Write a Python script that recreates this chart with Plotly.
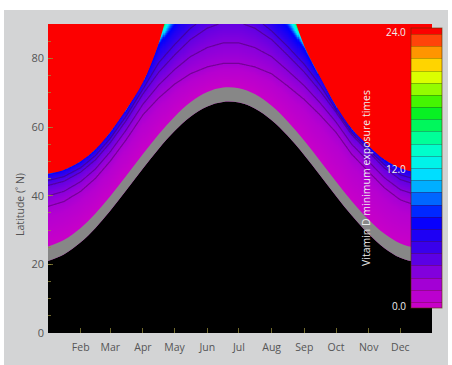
import numpy as np
import plotly.graph_objects as go

# ---- data (day of year, latitude in deg N) ----
days = [1, 16, 32, 46, 60, 75, 91, 106, 121, 136, 152, 167, 182, 197, 213, 228,
        244, 259, 274, 289, 305, 320, 335, 350, 365]
black_top = [21.0, 22.9, 26.4, 30.6, 35.6, 41.5, 47.9, 53.7, 58.8, 63.0, 66.0, 67.3, 67.1,
             65.4, 62.0, 57.5, 51.8, 45.9, 39.9, 34.2, 28.8, 24.7, 21.9, 20.7, 20.9]
grey_top = [25.2, 27.1, 30.6, 34.8, 39.8, 45.7, 52.1, 57.9, 63.0, 67.2, 70.2, 71.5, 71.3,
            69.6, 66.2, 61.7, 56.0, 50.1, 44.1, 38.4, 33.0, 28.9, 26.1, 24.9, 25.1]
lat_z2 = [36.9, 38.3, 41.3, 45.1, 50.1, 56.3, 63.6, 68.5, 72.5, 75.5, 77.5, 78.5, 78.5,
          77.5, 75.5, 72.0, 68.0, 63.5, 58.5, 52.1, 47.0, 42.3, 38.8, 37.2, 36.9]
lat_z4 = [43.0, 44.2, 46.9, 50.5, 55.5, 61.9, 69.7, 76.0, 81.0, 85.5, 88.8, 90.5, 90.5,
          88.8, 85.5, 81.0, 76.0, 70.5, 64.4, 57.8, 52.8, 48.1, 44.7, 43.3, 42.9]
lat_z6 = [45.8, 46.9, 49.4, 52.9, 57.9, 64.4, 72.4, 81.5, 87.0, 92.0, 96.0, 98.0, 98.0,
          95.0, 90.5, 86.0, 80.5, 73.9, 65.6, 58.9, 53.9, 49.9, 47.4, 46.2, 45.7]
lat_z8 = [46.3, 47.4, 49.9, 53.4, 58.4, 64.9, 72.9, 84.0, 90.0, 96.0, 100.0, 102.0, 102.0,
          99.0, 94.0, 89.5, 82.8, 74.4, 66.1, 59.4, 54.4, 50.4, 47.9, 46.7, 46.2]
red_bottom = [46.4, 47.5, 50.0, 53.5, 58.5, 65.0, 73.0, 84.5, 101.0, 115.0, 125.0, 130.0, 130.0,
              124.0, 112.0, 98.0, 83.5, 74.5, 66.2, 59.5, 54.5, 50.5, 48.0, 46.8, 46.3]
level_values = [0, 2, 4, 6, 8, 24]   # exposure time (h) at the isolines above

month_days = [32, 60, 91, 121, 152, 182, 213, 244, 274, 305, 335]
month_labels = ["Feb", "Mar", "Apr", "May", "Jun", "Jul", "Aug", "Sep", "Oct", "Nov", "Dec"]
cbar_ticks = [0, 12, 24]
cbar_labels = ["0.0", "12.0", "24.0"]

# ---- raster built from the isolines (the red edge itself is drawn as a filled trace) ----
gx = np.arange(1, 366, 1.0)
gy = np.arange(0, 90.01, 0.2)
red_ramp_top = np.array(red_bottom) + 4.0
iso = [np.interp(gx, days, a) for a in (grey_top, lat_z2, lat_z4, lat_z6, lat_z8, red_ramp_top)]
Z = np.zeros((gy.size, gx.size))
for j in range(gx.size):
    Z[:, j] = np.interp(gy, [a[j] for a in iso], level_values)

cscale = [
    [0.00, "rgb(200,0,200)"], [0.06, "rgb(182,0,208)"], [0.125, "rgb(135,0,220)"],
    [0.18, "rgb(85,0,230)"], [0.24, "rgb(40,0,240)"], [0.32, "rgb(0,0,255)"],
    [0.39, "rgb(0,100,255)"], [0.43, "rgb(0,170,255)"], [0.49, "rgb(0,235,255)"],
    [0.57, "rgb(0,255,200)"], [0.61, "rgb(0,255,150)"], [0.69, "rgb(0,240,40)"],
    [0.74, "rgb(70,245,0)"], [0.80, "rgb(180,255,0)"], [0.85, "rgb(255,255,0)"],
    [0.875, "rgb(255,200,0)"], [0.92, "rgb(255,140,0)"], [0.955, "rgb(255,70,10)"],
    [1.00, "rgb(252,0,0)"],
]

# plot-area geometry in px (used for paper coordinates of text)
L, R, T, B, W, H = 48, 20, 24, 32, 452, 365
pw, ph = W - L - R, H - T - B
def px(xp):
    return (xp - L) / pw
def py(yp):
    return (H - B - yp) / ph

fig = go.Figure()
fig.add_trace(go.Heatmap(x=gx, y=gy, z=Z, colorscale=cscale, zmin=0, zmax=24,
                         zsmooth=False, showscale=False, hoverinfo="skip"))
# darker isolines in the purple region
fig.add_trace(go.Contour(x=gx, y=gy, z=Z,
                         colorscale=[[0, "rgba(70,0,90,0.5)"], [1, "rgba(70,0,90,0.5)"]],
                         contours=dict(start=2, end=5, size=1, coloring="lines"),
                         line=dict(width=1.2, smoothing=1), showscale=False, hoverinfo="skip"))
# colour bar (trace outside the visible range)
fig.add_trace(go.Contour(x=[400, 401], y=[-10, -9], z=[[0, 24], [24, 0]],
                         colorscale=cscale,
                         contours=dict(start=1, end=23, size=1, coloring="fill", showlines=True),
                         line=dict(width=1, color="rgba(60,20,0,0.3)"), hoverinfo="skip",
                         colorbar=dict(x=px(411), xanchor="left", y=py(308), yanchor="bottom",
                                       len=280 / ph, lenmode="fraction", thickness=31,
                                       xpad=0, ypad=0, outlinewidth=1,
                                       outlinecolor="rgba(90,50,0,0.6)",
                                       tickvals=cbar_ticks, ticks="", showticklabels=False)))
# red region (24 h) above red_bottom
fig.add_trace(go.Scatter(x=days, y=[200] * len(days), mode="lines", line=dict(width=0),
                         hoverinfo="skip", showlegend=False))
fig.add_trace(go.Scatter(x=days, y=red_bottom, mode="lines", line=dict(width=0, shape="spline"),
                         fill="tonexty", fillcolor="rgb(252,0,0)", hoverinfo="skip",
                         showlegend=False))
# grey band and black region
fig.add_trace(go.Scatter(x=days, y=black_top, mode="lines", line=dict(width=0, shape="spline"),
                         fill="tozeroy", fillcolor="#000000", hoverinfo="skip", showlegend=False))
fig.add_trace(go.Scatter(x=days, y=grey_top, mode="lines", line=dict(width=0, shape="spline"),
                         fill="tonexty", fillcolor="#878787", hoverinfo="skip", showlegend=False))

tick_col = "rgba(150,140,60,0.75)"
cb_annots = [dict(text=t, xref="paper", yref="paper", x=px(408), xanchor="right",
                  y=py(306 - v / 24 * 274), yanchor="middle", showarrow=False,
                  font=dict(size=10, color="#f0f0f0", family="Open Sans"))
             for v, t in zip(cbar_ticks, cbar_labels)]
fig.update_layout(
    width=W, height=H,
    margin=dict(l=L, r=R, t=T, b=B, autoexpand=False),
    paper_bgcolor="white", plot_bgcolor="black",
    font=dict(family="Open Sans", size=11, color="#555555"),
    showlegend=False,
    xaxis=dict(range=[1, 365], tickvals=month_days, ticktext=month_labels, ticks="inside",
               ticklen=5, tickcolor=tick_col, showgrid=False, zeroline=False,
               ticklabelstandoff=6,
               tickfont=dict(size=10.5, color="#555555"), fixedrange=True),
    yaxis=dict(range=[0, 90], tickvals=[0, 20, 40, 60, 80], ticks="inside", ticklen=5,
               tickcolor=tick_col, showgrid=False, zeroline=False, ticklabelstandoff=3,
               minor=dict(dtick=5, ticks="inside", ticklen=3, tickcolor=tick_col),
               tickfont=dict(size=11, color="#555555"), fixedrange=True),
    shapes=[dict(type="rect", xref="paper", yref="paper", x0=px(4), x1=px(448),
                 y0=py(370), y1=py(10), fillcolor="#d3d4d5", line=dict(width=0), layer="below")],
    annotations=[
        dict(text="Latitude (˚ N)", xref="paper", yref="paper", x=px(20), xanchor="center",
             y=py(205), yanchor="middle", showarrow=False, textangle=-90,
             font=dict(size=10.5, color="#555555")),
        dict(text="Vitamin D minimum exposure times", xref="paper", yref="paper",
             x=px(366), xanchor="center", y=py(178), yanchor="middle",
             showarrow=False, textangle=-90,
             font=dict(size=10.5, color="#eeeeee")),
    ] + cb_annots,
)
fig.write_html("out.html", config={"displayModeBar": False},
               post_script="document.body.style.margin='0px';")
